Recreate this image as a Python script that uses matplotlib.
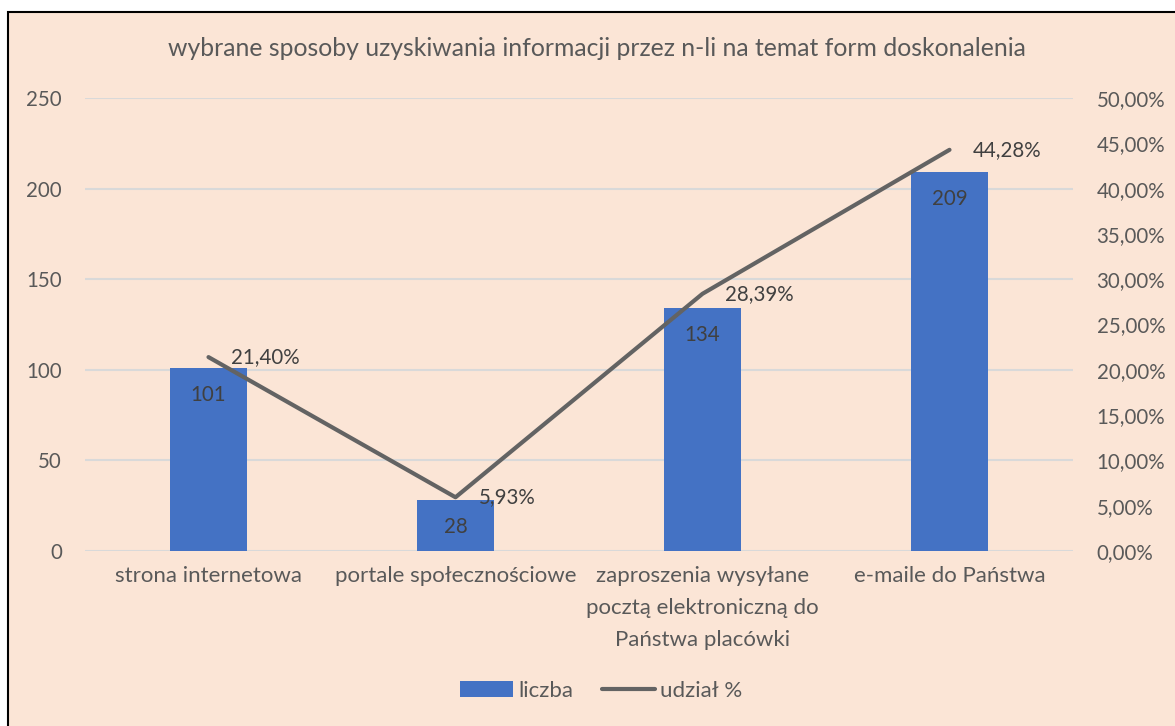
import matplotlib
matplotlib.use('Agg')
import matplotlib.pyplot as plt
from matplotlib.patches import Rectangle, Patch
from matplotlib.lines import Line2D
from matplotlib.ticker import FuncFormatter

# Data
categories = ['strona internetowa', 'portale społecznościowe',
              'zaproszenia wysyłane\npocztą elektroniczną do\nPaństwa placówki',
              'e-maile do Państwa']
counts = [101, 28, 134, 209]
shares = [21.40, 5.93, 28.39, 44.28]
left_ticks = [0, 50, 100, 150, 200, 250]
right_ticks = [0, 5, 10, 15, 20, 25, 30, 35, 40, 45, 50]

bg = '#FBE5D6'
bar_color = '#4472C4'
line_color = '#636363'
text_color = '#595959'
label_color = '#404040'
fs = 16      # words
fs_num = 14.8  # numbers

plt.rcParams['font.family'] = ['Lato', 'DejaVu Sans']

fig = plt.figure(figsize=(11.75, 7.26), dpi=100)
fig.patch.set_facecolor('white')
# chart area background with border
fig.patches.append(Rectangle((8 / 1175, -0.01), 1.02, 1 - 12 / 726 + 0.01,
                             transform=fig.transFigure, facecolor=bg,
                             edgecolor='black', linewidth=1.5, zorder=-10))

ax = fig.add_axes([85 / 1175, 1 - 551 / 726, 988 / 1175, 453 / 726])
ax.set_facecolor('none')
x = range(len(categories))

ax.set_axisbelow(True)
ax.grid(axis='y', color='#D9D9D9', linewidth=1.5)
bars = ax.bar(x, counts, width=0.315, color=bar_color, zorder=2)
ax.set_ylim(0, 250)
ax.set_xlim(-0.5, 3.5)
ax.set_yticks(left_ticks)
ax.set_xticks(list(x))
ax.set_xticklabels(categories, fontsize=fs, color=text_color, linespacing=1.75, va='top')
ax.tick_params(axis='y', length=0, pad=16.5, labelsize=fs_num, labelcolor=text_color)
ax.tick_params(axis='x', length=0, pad=11)
for s in ax.spines.values():
    s.set_visible(False)

for i, v in enumerate(counts):
    ax.annotate(str(v), (i, v), xytext=(0, -27), textcoords='offset pixels',
                ha='center', va='center', fontsize=fs_num, color=label_color, zorder=4)

ax2 = ax.twinx()
ax2.plot(list(x), shares, color=line_color, linewidth=3, solid_capstyle='round', zorder=3)
ax2.set_ylim(0, 50)
ax2.set_yticks(right_ticks)
ax2.yaxis.set_major_formatter(FuncFormatter(lambda v, p: f'{v:.2f}'.replace('.', ',') + '%'))
ax2.tick_params(axis='y', length=0, pad=17, labelsize=fs_num, labelcolor=text_color)
for s in ax2.spines.values():
    s.set_visible(False)

for i, v in enumerate(shares):
    ax2.annotate(f'{v:.2f}'.replace('.', ',') + '%', (i, v), xytext=(23, 0),
                 textcoords='offset pixels', ha='left', va='center',
                 fontsize=fs_num, color=label_color, zorder=4)

fig.text(597 / 1175, 1 - 48 / 726,
         'wybrane sposoby uzyskiwania informacji przez n-li na temat form doskonalenia',
         ha='center', va='center', fontsize=17.8, color=text_color)

handles = [Patch(facecolor=bar_color, label='liczba'),
           Line2D([0], [0], color=line_color, linewidth=3, solid_capstyle='round', label='udział %')]
fig.legend(handles=handles, loc='center', bbox_to_anchor=(601 / 1175, 1 - 691 / 726),
           ncol=2, frameon=False, fontsize=fs, labelcolor=text_color,
           handlelength=2.4, handletextpad=0.2, columnspacing=1.3)

fig.savefig('out.png', dpi=100, facecolor=fig.get_facecolor())
